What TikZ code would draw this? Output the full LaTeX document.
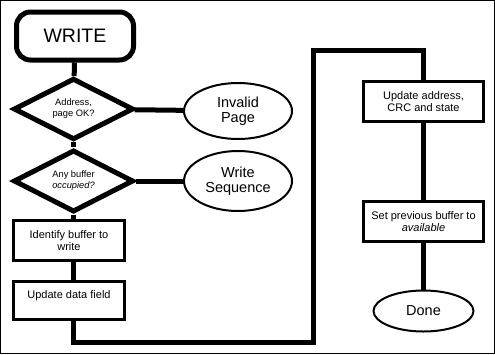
\documentclass[tikz,border=0pt]{standalone}
\usepackage{fontspec}
\setmainfont{Liberation Sans}
\usetikzlibrary{shapes.geometric}

\begin{document}
\begin{tikzpicture}[x=1pt,y=-1pt,
    terminal/.style={draw,line width=5pt,rounded corners=14pt,minimum width=117pt,minimum height=48pt,inner sep=0pt,font=\fontsize{19.5}{21}\selectfont},
    decision/.style={draw,diamond,line width=5pt,minimum width=120pt,minimum height=56pt,inner sep=0pt,align=center,font=\fontsize{9.3}{11}\selectfont},
    outcome/.style={draw,ellipse,line width=2pt,inner sep=0pt,align=center,font=\fontsize{14.5}{15.5}\selectfont},
    process/.style={draw,line width=2.5pt,inner sep=0pt,align=center,font=\fontsize{11}{12.5}\selectfont},
    flow/.style={line width=5pt}]
  \useasboundingbox (0,0) rectangle (495,354);
  \draw[line width=1pt] (0.5,0.5) rectangle (494.5,353.5);
  % left column
  \node[terminal] (write) at (75,36) {WRITE};
  \node[decision] (addrok) at (73.5,109) {Address,\\page OK?};
  \node[decision] (busy) at (73.5,181) {Any buffer\\\textit{occupied?}};
  \node[outcome,minimum width=108pt,minimum height=56pt] (invalid) at (238,111) {Invalid\\Page};
  \node[outcome,minimum width=108pt,minimum height=60pt] (wseq) at (238,181) {Write\\Sequence};
  \node[process,minimum width=111pt,minimum height=40pt] (ident) at (69,240.5) {Identify buffer to\\write};
  \node[process,minimum width=111pt,minimum height=38pt] (datafld) at (69,300.5) {Update data field\\~};
  % right column
  \node[process,minimum width=120pt,minimum height=40pt] (addrupd) at (423.5,101.5) {Update address,\\CRC and state};
  \node[process,minimum width=120pt,minimum height=40pt] (prevbuf) at (423.5,221.5) {Set previous buffer to\\\textit{available}};
  \node[outcome,minimum width=100pt,minimum height=41pt] (done) at (423.5,311) {Done};
  \coordinate (lowturn) at (313,342);
  \coordinate (highturn) at (313,50);
  % connectors
  \draw[flow] (write) -- (addrok);
  \draw[flow] (addrok) -- (invalid);
  \draw[flow] (addrok) -- (busy);
  \draw[flow] (busy) -- (wseq);
  \draw[flow] (busy) -- (busy |- ident.north);
  \draw[flow] (ident.south -| busy) -- (datafld.north -| busy);
  \draw[flow] (datafld.south -| busy) |- (lowturn) -- (highturn) -| (addrupd.north);
  \draw[flow] (addrupd) -- (prevbuf);
  \draw[flow] (prevbuf) -- (done);
\end{tikzpicture}
\end{document}
